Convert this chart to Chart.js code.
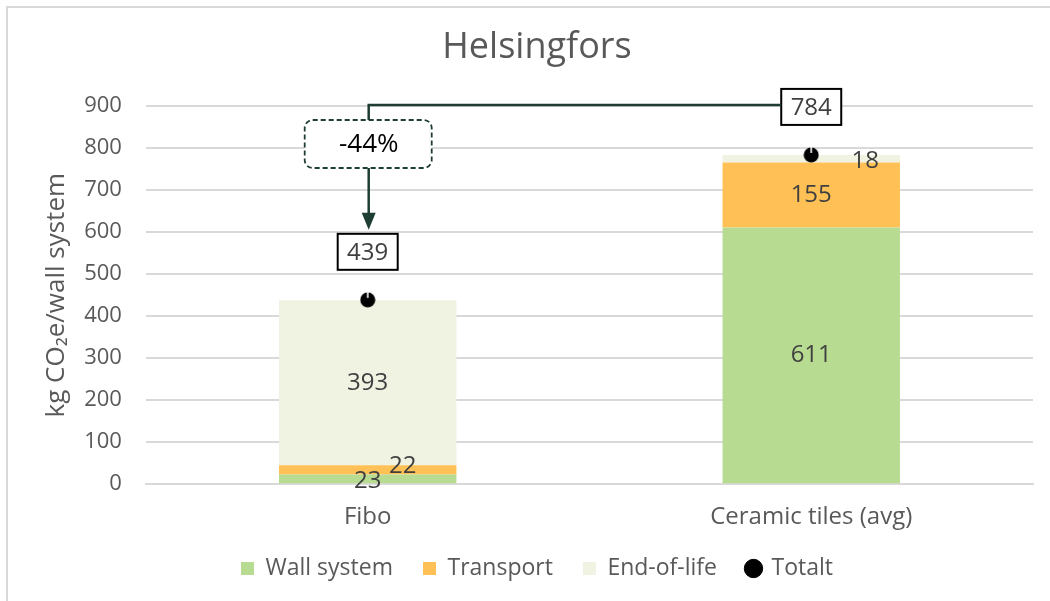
<!DOCTYPE html>
<html>
<head>
<meta charset="utf-8">
<script src="https://cdn.jsdelivr.net/npm/chart.js@4.4.1/dist/chart.umd.min.js"></script>
<style>
  html, body { margin: 0; padding: 0; background: #fff; overflow: hidden; }
  #wrap { position: relative; width: 1050px; height: 601px; }
  #frame { position: absolute; left: 6px; top: 6px; width: 1100px; height: 700px;
           border-left: 2px solid #d9d9d9; border-top: 2px solid #d9d9d9; pointer-events: none; }
</style>
</head>
<body>
<div id="wrap">
  <canvas id="myChart" width="1050" height="601"></canvas>
  <div id="frame"></div>
</div>
<script>
var categories = ['Fibo', 'Ceramic tiles (avg)'];
var wall_system = [23, 611];
var transport = [22, 155];
var end_of_life = [393, 18];
var totalt = [439, 784];
var y_ticks = [0, 100, 200, 300, 400, 500, 600, 700, 800, 900];

var FONT = "'Open Sans', sans-serif";
var GREY = '#595959';
var DARK = '#1e3d33';

// black dot with the little white notch Excel leaves on top
var dot = document.createElement('canvas');
dot.width = 16; dot.height = 16;
(function() {
    var g = dot.getContext('2d');
    g.fillStyle = '#000';
    g.beginPath();
    g.arc(8, 8, 7.5, 0, Math.PI * 2);
    g.fill();
    g.strokeStyle = '#fff';
    g.lineWidth = 1.6;
    g.beginPath();
    g.moveTo(8, 0);
    g.lineTo(8, 6);
    g.stroke();
})();

// numbers inside / beside the stacked bars
var barLabels = {
    id: 'barLabels',
    afterDatasetsDraw: function(chart) {
        var c = chart.ctx;
        c.save();
        c.font = '24px ' + FONT;
        c.fillStyle = '#404040';
        c.textAlign = 'center';
        c.textBaseline = 'middle';
        for (var d = 0; d < 3; d++) {
            var meta = chart.getDatasetMeta(d);
            meta.data.forEach(function(el, i) {
                var v = chart.data.datasets[d].data[i];
                var x = el.x, y = (el.y + el.base) / 2;
                if (v < 30) {
                    // small segments: label pushed aside like Excel does
                    if (d === 0) { y = el.base - 2; }
                    else if (d === 1) { x += 35; y -= 4; }
                    else { x += 54; y += 2; }
                }
                c.fillText(v, x, y);
            });
        }
        c.restore();
    }
};

// total boxes and the -44% bracket
var bracket = {
    id: 'bracket',
    afterDatasetsDraw: function(chart) {
        var c = chart.ctx;
        var xs = chart.scales.x, ys = chart.scales.y;
        var boxes = [];
        c.save();
        c.font = '24px ' + FONT;
        c.textAlign = 'center';
        c.textBaseline = 'middle';
        totalt.forEach(function(v, i) {
            var x = xs.getPixelForValue(i);
            var y = ys.getPixelForValue(v) - 48;
            var w = 60, h = 36;
            c.fillStyle = '#fff';
            c.fillRect(x - w / 2, y - h / 2, w, h);
            c.strokeStyle = '#000';
            c.lineWidth = 2;
            c.strokeRect(x - w / 2, y - h / 2, w, h);
            c.fillStyle = '#404040';
            c.fillText(v, x, y + 1);
            boxes.push({ x: x, y: y, w: w, h: h });
        });
        var a = boxes[0], b = boxes[1];
        var lx = a.x + 1;
        var topY = b.y - 2;
        var bx0 = lx - 64, bx1 = lx + 63, by0 = 120, by1 = 168;
        c.strokeStyle = DARK;
        c.lineWidth = 2.5;
        c.beginPath();
        c.moveTo(b.x - b.w / 2, topY);
        c.lineTo(lx, topY);
        c.lineTo(lx, by0);
        c.stroke();
        // arrow down to the 439 box
        var tip = a.y - a.h / 2 - 4;
        c.beginPath();
        c.moveTo(lx, by1);
        c.lineTo(lx, tip - 14);
        c.stroke();
        c.fillStyle = DARK;
        c.beginPath();
        c.moveTo(lx - 7, tip - 17);
        c.lineTo(lx + 7, tip - 17);
        c.lineTo(lx, tip);
        c.closePath();
        c.fill();
        // dashed rounded box
        c.setLineDash([5, 3]);
        c.lineWidth = 1.8;
        c.fillStyle = '#fff';
        c.beginPath();
        c.roundRect(bx0, by0, bx1 - bx0, by1 - by0, 8);
        c.fill();
        c.stroke();
        c.setLineDash([]);
        var pct = Math.round((totalt[0] - totalt[1]) / totalt[1] * 100);
        c.fillStyle = '#000';
        c.font = '26px ' + FONT;
        c.fillText(pct + '%', lx, (by0 + by1) / 2 + 1);
        c.restore();
    }
};

// pull the legend up a bit, its padding is used both ways
var legendLift = {
    id: 'legendLift',
    afterLayout: function(chart) {
        chart.legend.top -= 16;
        chart.legend.bottom -= 16;
    }
};

var ctx = document.getElementById('myChart');
var myChart = new Chart(ctx, {
    type: 'bar',
    data: {
        labels: categories,
        datasets: [{
            label: 'Wall system',
            data: wall_system,
            backgroundColor: '#b7db91',
            stack: 's',
            pointStyle: 'rect',
            order: 2
        }, {
            label: 'Transport',
            data: transport,
            backgroundColor: '#ffc155',
            stack: 's',
            pointStyle: 'rect',
            order: 2
        }, {
            label: 'End-of-life',
            data: end_of_life,
            backgroundColor: '#f0f3e2',
            stack: 's',
            pointStyle: 'rect',
            order: 2
        }, {
            type: 'line',
            label: 'Totalt',
            data: totalt,
            stack: 'total',
            showLine: false,
            backgroundColor: '#000',
            borderColor: '#000',
            pointStyle: dot,
            order: 1
        }]
    },
    options: {
        responsive: false,
        animation: false,
        categoryPercentage: 1,
        barPercentage: 0.4,
        layout: { padding: { left: 41, right: 17, top: 8, bottom: -5 } },
        plugins: {
            title: {
                display: true,
                text: 'Helsingfors',
                color: GREY,
                font: { family: FONT, size: 36, weight: 'normal' },
                padding: { top: 18, bottom: 37 }
            },
            legend: {
                position: 'bottom',
                labels: {
                    usePointStyle: true,
                    boxWidth: 13,
                    boxHeight: 13,
                    padding: 30,
                    color: GREY,
                    font: { family: FONT, size: 23 },
                    sort: function(a, b) { return a.datasetIndex - b.datasetIndex; },
                    generateLabels: function(chart) {
                        var items = Chart.defaults.plugins.legend.labels.generateLabels(chart);
                        items.forEach(function(it) {
                            if (it.text === 'Totalt') { it.pointStyle = 'circle'; }
                        });
                        return items;
                    }
                }
            },
            tooltip: { enabled: false }
        },
        scales: {
            x: {
                stacked: true,
                grid: { display: false },
                border: { color: '#d9d9d9', width: 2 },
                ticks: { color: GREY, font: { family: FONT, size: 24 }, padding: 11 }
            },
            y: {
                stacked: true,
                min: y_ticks[0],
                max: y_ticks[y_ticks.length - 1],
                afterBuildTicks: function(axis) {
                    axis.ticks = y_ticks.map(function(v) { return { value: v }; });
                },
                grid: { color: '#d9d9d9', lineWidth: 2, drawTicks: false },
                border: { display: false },
                ticks: { color: GREY, font: { family: FONT, size: 22 }, padding: 24 },
                title: {
                    display: true,
                    text: 'kg CO\u2082e/wall system',
                    color: GREY,
                    font: { family: FONT, size: 26 },
                    padding: { top: 0, bottom: -12 }
                }
            }
        }
    },
    plugins: [barLabels, bracket, legendLift]
});
</script>
</body>
</html>
